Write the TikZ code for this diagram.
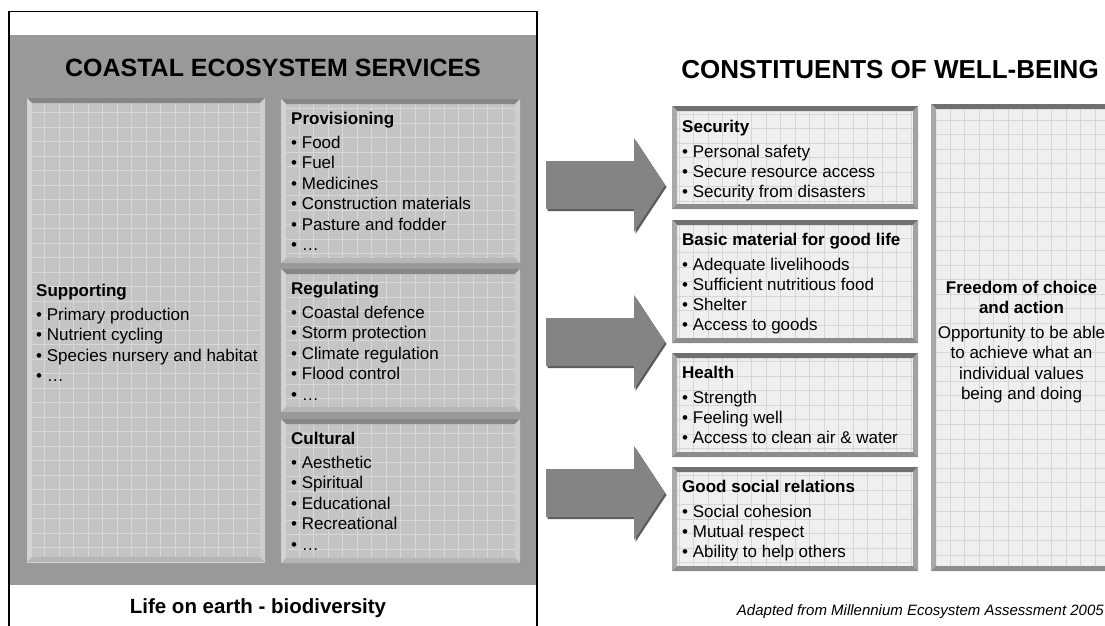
\documentclass[tikz,border=0pt]{standalone}
\usepackage{fontspec}
\setmainfont{Liberation Sans}
\usetikzlibrary{calc}

% colours
\definecolor{panelgray}{HTML}{999999}
\definecolor{pfill}{HTML}{C4C4C4}
\definecolor{pgrid}{HTML}{D8D8D8}
\definecolor{ptop}{HTML}{868686}
\definecolor{pleft}{HTML}{D3D3D3}
\definecolor{pright}{HTML}{CECECE}
\definecolor{pbottom}{HTML}{B6B6B6}
\definecolor{wfill}{HTML}{EFEFEF}
\definecolor{wgrid}{HTML}{D6D6D6}
\definecolor{wtop}{HTML}{707070}
\definecolor{wleft}{HTML}{A9A9A9}
\definecolor{wright}{HTML}{A2A2A2}
\definecolor{wbottom}{HTML}{8C8C8C}
\definecolor{arrowfill}{HTML}{848484}
\definecolor{arrowshade}{HTML}{5C5C5C}

\newcommand\firststrut{\rule{0pt}{13pt}}

\tikzset{
  % raised box: fill, grid colour, then top / left / right / bottom bevel colours
  bevelbox/.style n args={6}{
    fill=#1, draw=none, inner sep=0pt, outer sep=0pt, anchor=north west,
    path picture={
      \coordinate (bnw) at (path picture bounding box.north west);
      \coordinate (bne) at (path picture bounding box.north east);
      \coordinate (bsw) at (path picture bounding box.south west);
      \coordinate (bse) at (path picture bounding box.south east);
      \draw[#2, line width=0.9pt, step=14.5pt] (bnw) grid (bse);
      \fill[#3] (bnw) -- (bne) -- ($(bne)+(-5,5)$) -- ($(bnw)+(5,5)$) -- cycle;
      \fill[#4] (bnw) -- ($(bnw)+(5,5)$) -- ($(bsw)+(5,-5)$) -- (bsw) -- cycle;
      \fill[#5] (bne) -- (bse) -- ($(bse)+(-5,-5)$) -- ($(bne)+(-5,5)$) -- cycle;
      \fill[#6] (bsw) -- ($(bsw)+(5,-5)$) -- ($(bse)+(-5,-5)$) -- (bse) -- cycle;
    }},
  panelbox/.style={bevelbox={pfill}{pgrid}{ptop}{pleft}{pright}{pbottom}},
  wellbox/.style={bevelbox={wfill}{wgrid}{wtop}{wleft}{wright}{wbottom}},
  ltxt/.style={anchor=north west, align=left, inner sep=0pt,
    font=\fontsize{17}{20.5}\selectfont},
  rtxt/.style={anchor=north west, align=left, inner sep=0pt,
    font=\fontsize{17}{20}\selectfont},
  bigtitle/.style={anchor=base, inner sep=0pt,
    font=\fontsize{#1}{30}\selectfont\bfseries},
  blockarrow/.pic={
    \fill[arrowshade] (1.5,-22) -- (89.5,-22) -- (89.5,-45) -- (120.5,2) -- (89.5,49)
      -- (89.5,26) -- (1.5,26) -- cycle;
    \fill[arrowfill] (0,-24) -- (88,-24) -- (88,-47) -- (119,0) -- (88,47)
      -- (88,24) -- (0,24) -- cycle;
  },
}

\begin{document}
\begin{tikzpicture}[x=1pt, y=-1pt]
  \useasboundingbox (0,0) rectangle (1105,626);
  \clip (0,0) rectangle (1105,626);
  \fill[white] (0,0) rectangle (1105,626);

  % left panel: ecosystem services
  \fill[panelgray] (9,35) rectangle (537,585);
  \draw[line width=1.6pt] (9,640) -- (9,11.5) -- (537,11.5) -- (537,640);
  \node[bigtitle=25] (svctitle) at (273,76) {COASTAL ECOSYSTEM SERVICES};

  \node[panelbox, minimum width=238pt, minimum height=464pt] (supp) at (27,98) {};
  \node[ltxt] (supptxt) at ($(supp.north west)+(9,185)$)
    {\firststrut\textbf{Supporting}\\[3.5pt]
     \textbullet\ Primary production\\
     \textbullet\ Nutrient cycling\\
     \textbullet\ Species nursery and habitat\\
     \textbullet\ …};

  \node[panelbox, minimum width=239pt, minimum height=164pt] (prov) at (281,99) {};
  \node[ltxt] (provtxt) at ($(prov.north west)+(10,12)$)
    {\firststrut\textbf{Provisioning}\\[3.5pt]
     \textbullet\ Food\\
     \textbullet\ Fuel\\
     \textbullet\ Medicines\\
     \textbullet\ Construction materials\\
     \textbullet\ Pasture and fodder\\
     \textbullet\ …};

  \node[panelbox, minimum width=239pt, minimum height=143pt] (regu) at (281,269) {};
  \node[ltxt] (regutxt) at ($(regu.north west)+(10,12)$)
    {\firststrut\textbf{Regulating}\\[3.5pt]
     \textbullet\ Coastal defence\\
     \textbullet\ Storm protection\\
     \textbullet\ Climate regulation\\
     \textbullet\ Flood control\\
     \textbullet\ …};

  \node[panelbox, minimum width=239pt, minimum height=144pt] (cult) at (281,419) {};
  \node[ltxt] (culttxt) at ($(cult.north west)+(10,12)$)
    {\firststrut\textbf{Cultural}\\[3.5pt]
     \textbullet\ Aesthetic\\
     \textbullet\ Spiritual\\
     \textbullet\ Educational\\
     \textbullet\ Recreational\\
     \textbullet\ …};

  \node[anchor=base, inner sep=0pt, font=\fontsize{20.5}{24}\selectfont\bfseries]
    (life) at (258,613) {Life on earth - biodiversity};

  % right side: constituents of well-being
  \node[bigtitle=26] (wbtitle) at (890,78) {CONSTITUENTS OF WELL-BEING};

  \node[wellbox, minimum width=246pt, minimum height=103pt] (secu) at (672,106) {};
  \node[rtxt] (secutxt) at ($(secu.north west)+(10,13)$)
    {\firststrut\textbf{Security}\\[5pt]
     \textbullet\ Personal safety\\
     \textbullet\ Secure resource access\\
     \textbullet\ Security from disasters};

  \node[wellbox, minimum width=246pt, minimum height=123pt] (basic) at (672,220) {};
  \node[rtxt] (basictxt) at ($(basic.north west)+(10,12)$)
    {\firststrut\textbf{Basic material for good life}\\[5pt]
     \textbullet\ Adequate livelihoods\\
     \textbullet\ Sufficient nutritious food\\
     \textbullet\ Shelter\\
     \textbullet\ Access to goods};

  \node[wellbox, minimum width=246pt, minimum height=104pt] (health) at (672,353) {};
  \node[rtxt] (healthtxt) at ($(health.north west)+(10,12)$)
    {\firststrut\textbf{Health}\\[5pt]
     \textbullet\ Strength\\
     \textbullet\ Feeling well\\
     \textbullet\ Access to clean air \& water};

  \node[wellbox, minimum width=246pt, minimum height=104pt] (social) at (672,467) {};
  \node[rtxt] (socialtxt) at ($(social.north west)+(10,12)$)
    {\firststrut\textbf{Good social relations}\\[5pt]
     \textbullet\ Social cohesion\\
     \textbullet\ Mutual respect\\
     \textbullet\ Ability to help others};

  \node[wellbox, minimum width=183pt, minimum height=467pt] (free) at (931,104) {};
  \node[anchor=north, align=center, inner sep=0pt, font=\fontsize{17}{20.5}\selectfont]
    (freetxt) at ($(free.north)+(-1,176)$)
    {\firststrut\textbf{Freedom of choice}\\
     \textbf{and action}\\[4pt]
     Opportunity to be able\\
     to achieve what an\\
     individual values\\
     being and doing};

  % block arrows from services to well-being
  \coordinate (arrA) at (546,185);
  \coordinate (arrB) at (546,342);
  \coordinate (arrC) at (546,493);
  \pic at (arrA) {blockarrow};
  \pic at (arrB) {blockarrow};
  \pic at (arrC) {blockarrow};

  \node[anchor=base east, inner sep=0pt, font=\fontsize{15}{18}\selectfont\itshape]
    (source) at (1104,615) {Adapted from Millennium Ecosystem Assessment 2005};
\end{tikzpicture}
\end{document}
